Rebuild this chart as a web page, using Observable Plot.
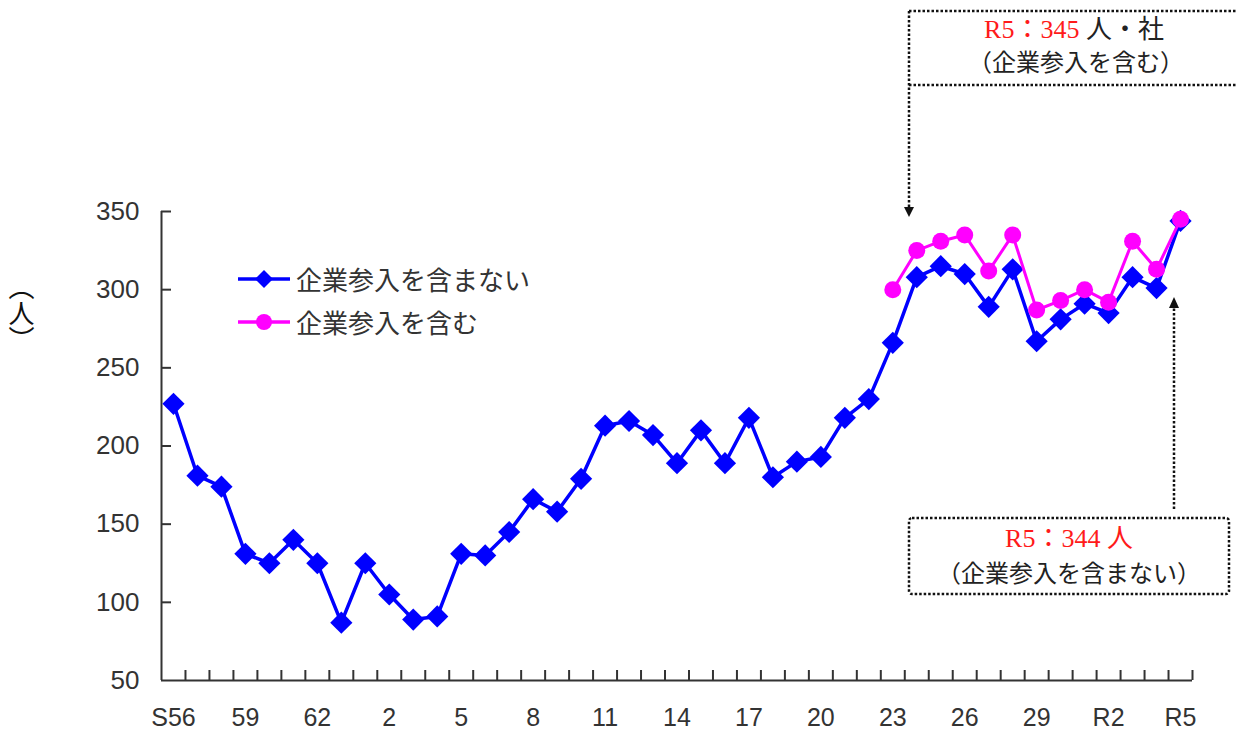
<!DOCTYPE html>
<html>
<head>
<meta charset="utf-8">
<script src="https://cdn.jsdelivr.net/npm/d3@7"></script>
<script src="https://cdn.jsdelivr.net/npm/@observablehq/plot@0.6"></script>
<style>
  html, body { margin: 0; padding: 0; background: #fff; }
  #wrap { position: relative; width: 1237px; height: 735px; overflow: hidden; }
  #chart { position: absolute; left: 0; top: 0; }
  .ov { position: absolute; white-space: nowrap; }
  .sans { font-family: "Noto Sans CJK JP", "Liberation Sans", sans-serif; color: #333; }
  .serif { font-family: "Liberation Serif", "DejaVu Serif", "Noto Sans CJK JP", serif; color: #222; }
  .red { color: #ff1a1a; }
</style>
</head>
<body>
<div id="wrap">
  <div id="chart"></div>
</div>
<script>
// ---- data ----
const categories = [
  "S56","S57","S58","S59","S60","S61","S62","S63",
  "H1","H2","H3","H4","H5","H6","H7","H8","H9","H10",
  "H11","H12","H13","H14","H15","H16","H17","H18","H19","H20",
  "H21","H22","H23","H24","H25","H26","H27","H28","H29","H30",
  "R1","R2","R3","R4","R5"
];
const excludingCompanies = [
  227,181,174,131,125,140,125,87,
  125,105,89,91,131,130,145,166,158,179,
  213,216,207,189,210,189,218,180,190,193,
  218,230,266,308,315,310,289,313,267,281,
  291,285,308,301,344
];
const includingCompanies = [
  null,null,null,null,null,null,null,null,
  null,null,null,null,null,null,null,null,null,null,
  null,null,null,null,null,null,null,null,null,null,
  null,null,300,325,331,335,312,335,287,293,
  300,292,331,313,345
];
const xTickLabels = ["S56","59","62","2","5","8","11","14","17","20","23","26","29","R2","R5"];
const yTicks = [50,100,150,200,250,300,350];
const seriesNames = ["企業参入を含まない","企業参入を含む"];

// ---- build ----
const idx = categories.map((_, i) => i);
const labelIdx = xTickLabels.map((_, k) => k * 3);
const boundaries = idx.map(i => i + 0.5);
const blue = "#0000ff", pink = "#ff00ff", axisColor = "#333";

const chart = Plot.plot({
  width: 1237, height: 735,
  marginLeft: 161, marginRight: 45, marginTop: 211, marginBottom: 55,
  x: {domain: [-0.5, categories.length - 0.5], axis: null},
  y: {domain: [50, 350], axis: null},
  style: {background: "transparent", overflow: "visible"},
  marks: [
    Plot.ruleX([-0.5], {y1: 50, y2: 350, stroke: axisColor, strokeWidth: 2}),
    Plot.ruleY([50], {x1: -0.5, x2: categories.length - 0.5, stroke: axisColor, strokeWidth: 2}),
    Plot.axisY({ticks: yTicks.slice(1), tickSize: 10, dx: 10, tickFormat: () => "", stroke: axisColor, strokeWidth: 2}),
    Plot.axisY({ticks: yTicks, tickSize: 0, tickPadding: 22, fontSize: 26, fill: axisColor,
                fontFamily: "Liberation Sans, Arial, sans-serif", tickFormat: d => String(d)}),
    Plot.axisX({ticks: boundaries, tickSize: 10, dy: -10, tickFormat: () => "", stroke: axisColor, strokeWidth: 2}),
    Plot.axisX({ticks: labelIdx, tickSize: 0, tickPadding: 28, fontSize: 25, fill: axisColor,
                fontFamily: "Liberation Sans, Arial, sans-serif",
                tickFormat: i => xTickLabels[i / 3]}),
    Plot.line(idx, {x: i => i, y: i => excludingCompanies[i], stroke: blue, strokeWidth: 3.5}),
    Plot.dot(idx, {x: i => i, y: i => excludingCompanies[i], symbol: "diamond2", r: 10, fill: blue, stroke: "none"}),
    Plot.line(idx.filter(i => includingCompanies[i] != null), {x: i => i, y: i => includingCompanies[i], stroke: pink, strokeWidth: 3}),
    Plot.dot(idx.filter(i => includingCompanies[i] != null), {x: i => i, y: i => includingCompanies[i], r: 8.5, fill: pink, stroke: "none"})
  ]
});
document.getElementById("chart").appendChild(chart);

const wrap = document.getElementById("wrap");
function addDiv(html, cls, style) {
  const d = document.createElement("div");
  d.className = "ov " + cls;
  d.innerHTML = html;
  Object.assign(d.style, style);
  wrap.appendChild(d);
  return d;
}

// y axis unit label (vertical)
addDiv("（人）", "sans", {left: "8px", top: "274px", fontSize: "26px", writingMode: "vertical-rl", color: "#111", lineHeight: "1"});

// legend
const legendRows = [
  {name: seriesNames[0], color: blue, sym: "diamond", top: 263},
  {name: seriesNames[1], color: pink, sym: "circle", top: 306}
];
legendRows.forEach(r => {
  const marker = r.sym === "diamond"
    ? `<polygon points="26,4 35,13 26,22 17,13" fill="${r.color}"/>`
    : `<circle cx="26" cy="13" r="8" fill="${r.color}"/>`;
  addDiv(`<svg width="52" height="26" style="vertical-align:middle"><line x1="0" y1="13" x2="52" y2="13" stroke="${r.color}" stroke-width="3.5"/>${marker}</svg>`,
    "", {left: "238px", top: (r.top + 3) + "px"});
  addDiv(r.name, "sans", {left: "296px", top: r.top + "px", fontSize: "26px", lineHeight: "32px"});
});

// annotation frames and arrows
const ns = "http://www.w3.org/2000/svg";
const ann = document.createElementNS(ns, "svg");
ann.setAttribute("width", 1237); ann.setAttribute("height", 735);
ann.style.position = "absolute"; ann.style.left = "0"; ann.style.top = "0";
ann.innerHTML = `
  <g stroke="#111" stroke-width="2.5" stroke-dasharray="2.5,2" fill="none">
    <line x1="909" y1="11" x2="1237" y2="11"/>
    <line x1="909" y1="85" x2="1237" y2="85"/>
    <line x1="909" y1="11" x2="909" y2="207"/>
    <rect x="909" y="518" width="320" height="76" rx="3"/>
    <line x1="1174" y1="509" x2="1174" y2="308"/>
  </g>
  <polygon points="904,207 914,207 909,217" fill="#111"/>
  <polygon points="1169,308 1179,308 1174,297" fill="#111"/>
`;
wrap.appendChild(ann);

// annotation texts
addDiv(`<span class="red">R5：345</span> 人・社`, "serif", {left: "909px", width: "330px", top: "14px", textAlign: "center", fontSize: "26px", lineHeight: "32px"});
addDiv(`（企業参入を含む）`, "serif", {left: "909px", width: "334px", top: "47px", textAlign: "center", fontSize: "24px", lineHeight: "32px"});
addDiv(`<span class="red">R5：344 人</span>`, "serif", {left: "909px", width: "320px", top: "523px", textAlign: "center", fontSize: "26px", lineHeight: "32px"});
addDiv(`（企業参入を含まない）`, "serif", {left: "909px", width: "320px", top: "558px", textAlign: "center", fontSize: "24px", lineHeight: "32px"});
</script>
</body>
</html>
